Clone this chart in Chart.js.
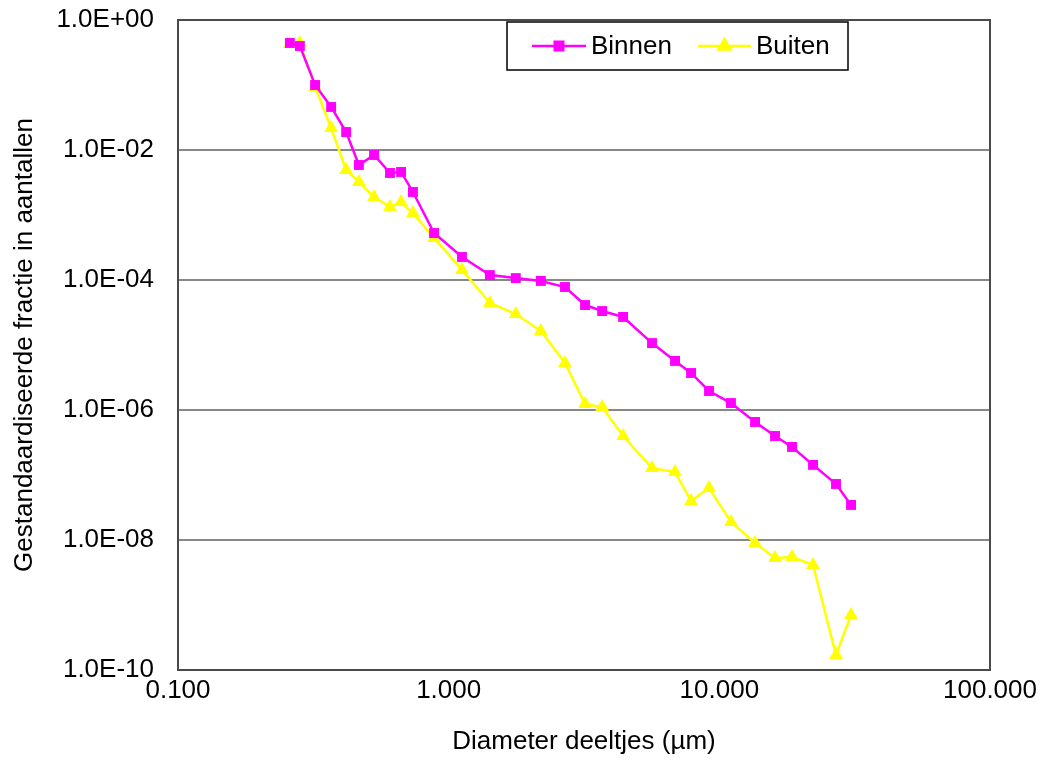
<!DOCTYPE html>
<html>
<head>
<meta charset="utf-8">
<script src="https://cdn.jsdelivr.net/npm/chart.js@4.4.1/dist/chart.umd.min.js"></script>
<style>
  html, body { margin: 0; padding: 0; background: #fff; }
  #wrap { width: 1041px; height: 760px; }
</style>
</head>
<body>
<div id="wrap"><canvas id="c" width="1041" height="760"></canvas></div>
<script>
// Diameters (µm), shared by both series
const diameters = [0.259, 0.282, 0.321, 0.368, 0.418, 0.466, 0.530, 0.607, 0.667, 0.738,
  0.883, 1.12, 1.42, 1.77, 2.19, 2.69, 3.19, 3.69, 4.41, 5.64,
  6.86, 7.86, 9.16, 11.04, 13.55, 16.06, 18.56, 22.19, 26.98, 30.66];

const binnen = [0.443, 0.398, 0.100, 0.0459, 0.0189, 0.00588, 0.00838, 0.00443, 0.00459, 0.00226,
  5.28e-4, 2.26e-4, 1.19e-4, 1.07e-4, 9.66e-5, 7.80e-5, 4.12e-5, 3.33e-5, 2.70e-5, 1.07e-5,
  5.68e-6, 3.71e-6, 1.96e-6, 1.28e-6, 6.54e-7, 3.98e-7, 2.70e-7, 1.43e-7, 7.27e-8, 3.46e-8];

const buiten = [0.427, 0.443, 0.0932, 0.0218, 0.00492, 0.00322, 0.00189, 0.00133, 0.00158, 0.00107,
  4.43e-4, 1.43e-4, 4.43e-5, 3.0e-5, 1.64e-5, 5.28e-6, 1.24e-6, 1.11e-6, 3.98e-7, 1.28e-7,
  1.11e-7, 3.98e-8, 6.31e-8, 1.89e-8, 8.99e-9, 5.28e-9, 5.47e-9, 4.12e-9, 1.70e-10, 7.02e-10];

const seriesNames = ['Binnen', 'Buiten'];
const yTickValues = [1, 1e-2, 1e-4, 1e-6, 1e-8, 1e-10];
const yTickLabels = ['1.0E+00', '1.0E-02', '1.0E-04', '1.0E-06', '1.0E-08', '1.0E-10'];
const xTickValues = [0.1, 1, 10, 100];
const xTickLabels = ['0.100', '1.000', '10.000', '100.000'];
const xTitle = 'Diameter deeltjes (µm)';
const yTitle = 'Gestandaardiseerde fractie in aantallen';

const FONT = '"Liberation Sans", Arial, sans-serif';
const toPts = (xs, ys) => xs.map((x, i) => ({ x: x, y: ys[i] }));

const framePlugin = {
  id: 'frame',
  beforeDatasetsDraw(chart) {
    const { ctx, chartArea: a } = chart;
    ctx.save();
    ctx.strokeStyle = '#4a4a4a';
    ctx.lineWidth = 2;
    ctx.strokeRect(a.left, a.top, a.right - a.left, a.bottom - a.top);
    ctx.restore();
  }
};

const legendPlugin = {
  id: 'boxLegend',
  afterDraw(chart) {
    const { ctx } = chart;
    ctx.save();
    ctx.fillStyle = '#fff';
    ctx.fillRect(507, 22, 341, 48);
    ctx.strokeStyle = '#000';
    ctx.lineWidth = 1.5;
    ctx.strokeRect(507, 22, 341, 48);
    const items = [
      { ds: 0, x0: 532, x1: 586, tx: 591 },
      { ds: 1, x0: 698, x1: 751, tx: 756 }
    ];
    const y = 46;
    items.forEach(it => {
      const d = chart.data.datasets[it.ds];
      ctx.strokeStyle = d.borderColor;
      ctx.lineWidth = d.borderWidth;
      ctx.beginPath();
      ctx.moveTo(it.x0, y);
      ctx.lineTo(it.x1, y);
      ctx.stroke();
      Chart.helpers.drawPoint(ctx, {
        pointStyle: d.pointStyle, radius: d.pointRadius - 1, borderWidth: 1, rotation: 0
      }, (it.x0 + it.x1) / 2, y);
      ctx.fillStyle = d.pointBackgroundColor;
      ctx.fill();
      ctx.fillStyle = '#000';
      ctx.font = '26px ' + FONT;
      ctx.textBaseline = 'middle';
      ctx.textAlign = 'left';
      ctx.fillText(d.label, it.tx, y + 1);
    });
    ctx.restore();
  }
};

new Chart(document.getElementById('c'), {
  type: 'line',
  data: {
    datasets: [
      {
        label: seriesNames[0],
        data: toPts(diameters, binnen),
        borderColor: '#FF00FF',
        backgroundColor: '#FF00FF',
        pointBackgroundColor: '#FF00FF',
        pointBorderColor: '#FF00FF',
        borderWidth: 2.5,
        pointStyle: 'rect',
        pointRadius: 7,
        pointBorderWidth: 0,
        tension: 0
      },
      {
        label: seriesNames[1],
        data: toPts(diameters, buiten),
        borderColor: '#FFFF00',
        backgroundColor: '#FFFF00',
        pointBackgroundColor: '#FFFF00',
        pointBorderColor: '#FFFF00',
        borderWidth: 2.5,
        pointStyle: 'triangle',
        pointRadius: 8,
        pointBorderWidth: 0,
        tension: 0
      }
    ]
  },
  options: {
    responsive: false,
    animation: false,
    events: [],
    layout: { padding: { top: 20, right: 51, bottom: 0, left: 0 } },
    plugins: {
      legend: { display: false },
      tooltip: { enabled: false },
      title: { display: false }
    },
    scales: {
      x: {
        type: 'logarithmic',
        min: 0.1,
        max: 100,
        afterFit(s) { s.height = 90; s.paddingLeft = 0; s.paddingRight = 0; },
        afterBuildTicks(s) { s.ticks = xTickValues.map(v => ({ value: v })); },
        grid: { display: false, drawTicks: false },
        border: { display: false },
        ticks: {
          autoSkip: false,
          maxRotation: 0,
          padding: 5,
          color: '#000',
          font: { family: FONT, size: 26 },
          callback: (v) => { const i = xTickValues.indexOf(v); return i >= 0 ? xTickLabels[i] : ''; }
        },
        title: {
          display: true,
          text: xTitle,
          color: '#000',
          font: { family: FONT, size: 26 },
          padding: { top: 0, bottom: 3 }
        }
      },
      y: {
        type: 'logarithmic',
        min: 1e-10,
        max: 1,
        afterFit(s) { s.width = 178; s.paddingTop = 0; s.paddingBottom = 0; },
        afterBuildTicks(s) { s.ticks = yTickValues.slice().reverse().map(v => ({ value: v })); },
        grid: { color: '#878787', lineWidth: 2, drawTicks: false },
        border: { display: false },
        ticks: {
          autoSkip: false,
          padding: 24,
          color: '#000',
          font: { family: FONT, size: 26 },
          callback: (v) => { const i = yTickValues.findIndex(t => Math.abs(Math.log10(t) - Math.log10(v)) < 1e-6); return i >= 0 ? yTickLabels[i] : ''; }
        },
        title: {
          display: true,
          text: yTitle,
          color: '#000',
          font: { family: FONT, size: 26 },
          padding: { top: 9, bottom: 0 }
        }
      }
    }
  },
  plugins: [framePlugin, legendPlugin]
});
</script>
</body>
</html>
